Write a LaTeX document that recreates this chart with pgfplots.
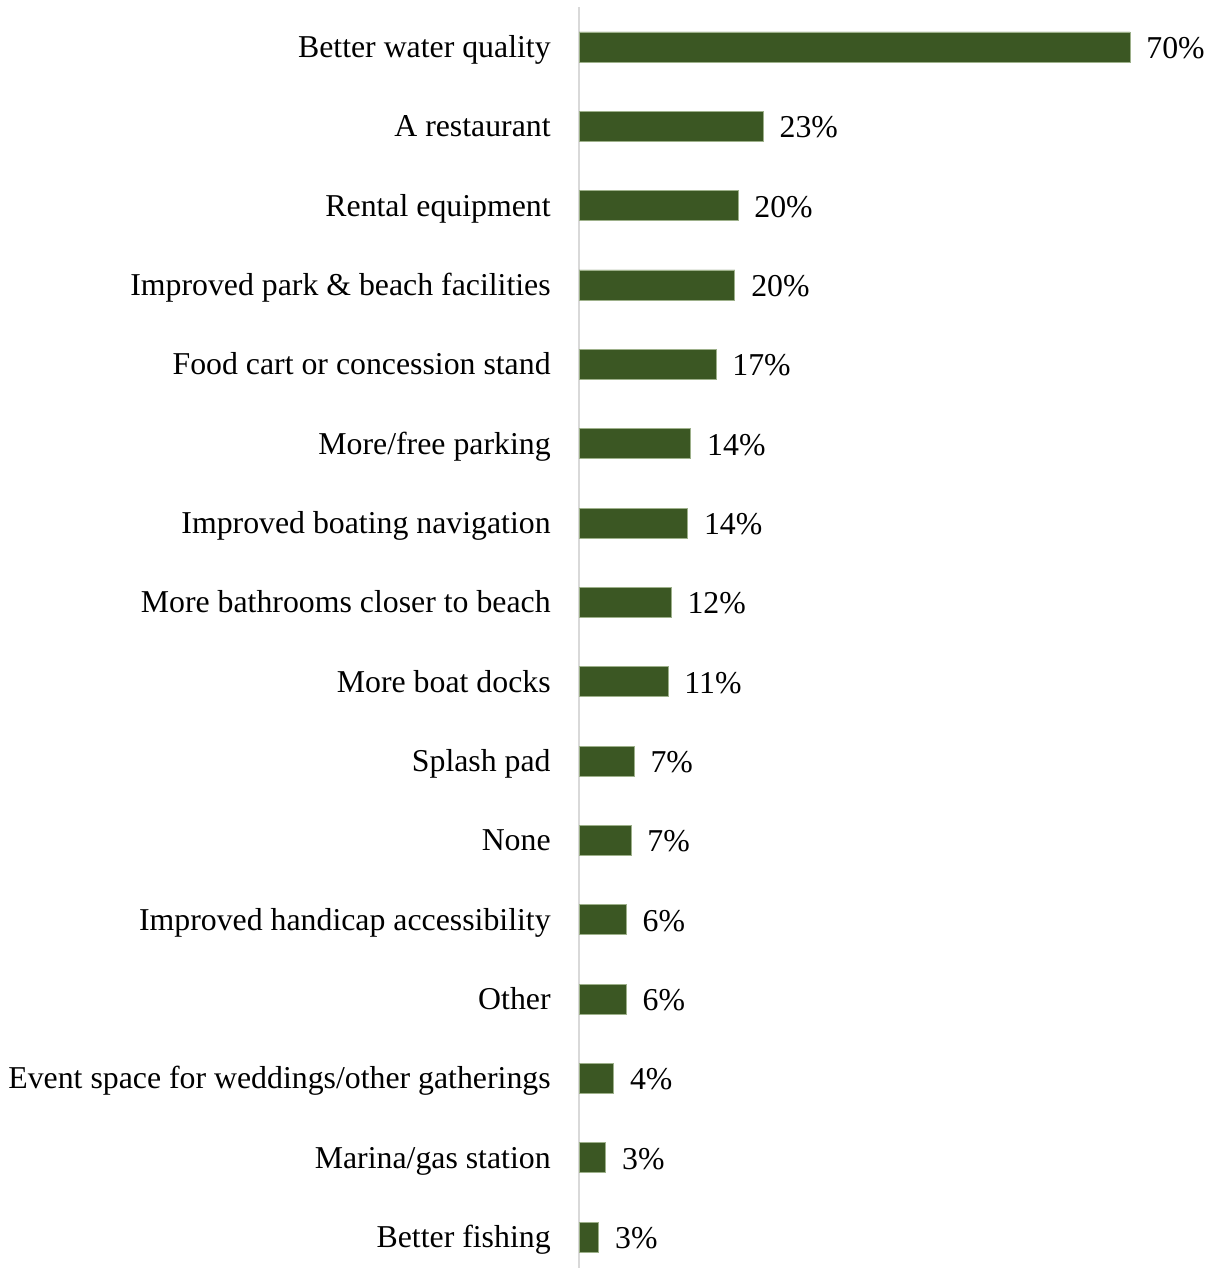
\documentclass[border=0pt]{standalone}
\usepackage{pgfplots}
\pgfplotsset{compat=1.18}
\usepackage{pgfplotstable}
\usepackage{fontspec}
\setmainfont{Liberation Serif}
\definecolor{bargreen}{HTML}{3B5723}
\definecolor{baredge}{HTML}{9DB08A}
\definecolor{axisgray}{HTML}{D9D9D9}
\pgfplotstableread{
y x lab
0 70 70
1 23.4 23
2 20.2 20
3 19.8 20
4 17.4 17
5 14.2 14
6 13.8 14
7 11.7 12
8 11.3 11
9 7.0 7
10 6.6 7
11 6.0 6
12 6.0 6
13 4.4 4
14 3.4 3
15 2.5 3
}\data
\begin{document}
\begin{tikzpicture}
\begin{axis}[
  name=ax,
  scale only axis,
  width=316.5pt, height=630.3pt,
  xmin=0, xmax=80.43,
  ymin=-0.5, ymax=15.39,
  y dir=reverse,
  xbar, bar width=15pt, bar shift=0pt,
  axis x line=none,
  axis y line*=left,
  y axis line style={draw=axisgray, line width=1pt},
  xtick=\empty,
  ytick={0,...,15},
  yticklabels={Better water quality, A restaurant, Rental equipment, Improved park \& beach facilities, Food cart or concession stand, More/free parking, Improved boating navigation, More bathrooms closer to beach, More boat docks, Splash pad, None, Improved handicap accessibility, Other, Event space for weddings/other gatherings, Marina/gas station, Better fishing},
  major tick length=0pt,
  yticklabel style={anchor=base east, inner sep=0pt, xshift=-14pt, yshift=-5.3pt, font=\fontsize{15.9}{19}\selectfont},
  point meta=explicit symbolic,
  nodes near coords={\pgfplotspointmeta\%},
  nodes near coords style={anchor=base west, inner sep=0pt, xshift=8pt, yshift=-5.8pt, font=\fontsize{15.9}{19}\selectfont, black},
  clip=false,
]
\addplot[fill=bargreen, draw=baredge, line width=0.4pt] table[x=x, y=y, meta=lab] {\data};
\end{axis}
\pgfresetboundingbox
\path[use as bounding box] ([xshift=-289.5pt]ax.south west) rectangle ([yshift=3.65pt]ax.north east);
\end{tikzpicture}
\end{document}
